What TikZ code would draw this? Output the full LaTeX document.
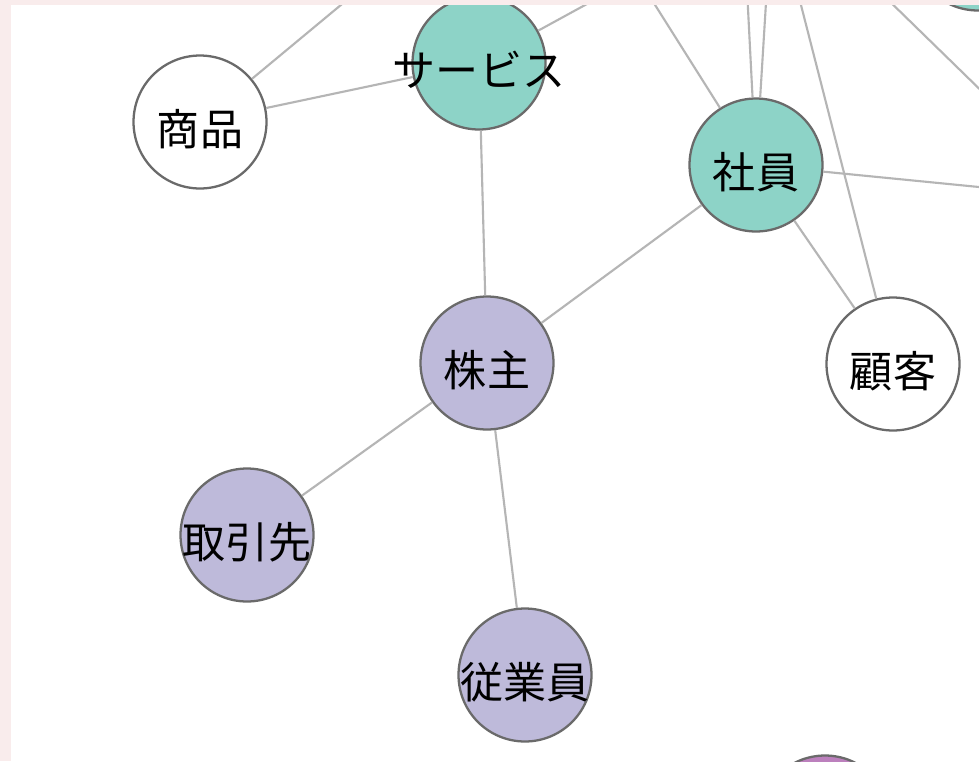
\documentclass[tikz,border=0pt]{standalone}
\usepackage{fontspec}
\newfontfamily\jpfont{Noto Sans CJK JP}
\definecolor{pinkbg}{HTML}{F9ECEC}
\definecolor{tealfill}{HTML}{8DD3C7}
\definecolor{lavfill}{HTML}{BEBADA}
\definecolor{purplefill}{HTML}{BC80BD}
\definecolor{ringgray}{HTML}{6A6A6A}
\definecolor{linkgray}{HTML}{B5B5B5}
\begin{document}
\begin{tikzpicture}[x=0.02cm, y=-0.02cm,
	term/.style={circle, draw=ringgray, line width=1.3pt, minimum size=2.66cm, inner sep=0pt,
		font=\fontsize{24.5}{29}\jpfont, text height=29pt, text depth=2.5pt,
		execute at begin node={\hbox to 0pt\bgroup\hss}, execute at end node={\hss\egroup}},
	link/.style={draw=linkgray, line width=1.2pt}]
	\useasboundingbox (0,0) rectangle (979,761);
	\fill[pinkbg] (0,0) rectangle (979,761);
	\fill[white] (11,5) rectangle (979,761);
	\clip (11,5) rectangle (979,761);

	\node[term, fill=white](shohin) at (200,122){商品};
	\node[term, fill=tealfill](service) at (479,63){サービス};
	\node[term, fill=tealfill](shain) at (756,165){社員};
	\node[term, fill=white](kokyaku) at (893,364){顧客};
	\node[term, fill=lavfill](kabunushi) at (487,363){株主};
	\node[term, fill=lavfill](torihiki) at (247,535){取引先};
	\node[term, fill=lavfill](jugyoin) at (525,675){従業員};
	\node[term, fill=tealfill](corner) at (978,-56){};
	\node[term, fill=purplefill](bottom) at (825,822){};

	% ends outside the frame
	\coordinate (out1) at (383,-30);
	\coordinate (out2) at (640,-25);
	\coordinate (out3) at (633,-30);
	\coordinate (out4) at (746,-30);
	\coordinate (out5) at (768,-30);
	\coordinate (out6) at (792,-30);
	\coordinate (out7) at (1060,195);
	\coordinate (out8) at (880,-8);
	\coordinate (out9) at (1000,109);

	\draw [link] (shohin) -- (out1);
	\draw [link] (shohin) -- (service);
	\draw [link] (service) -- (out2);
	\draw [link] (shain) -- (out3);
	\draw [link] (shain) -- (out4);
	\draw [link] (shain) -- (out5);
	\draw [link] (out6) -- (kokyaku);
	\draw [link] (shain) -- (out7);
	\draw [link] (shain) -- (kokyaku);
	\draw [link] (out8) -- (out9);
	\draw [link] (kabunushi) -- (service);
	\draw [link] (kabunushi) -- (shain);
	\draw [link] (kabunushi) -- (torihiki);
	\draw [link] (kabunushi) -- (jugyoin);
\end{tikzpicture}
\end{document}
